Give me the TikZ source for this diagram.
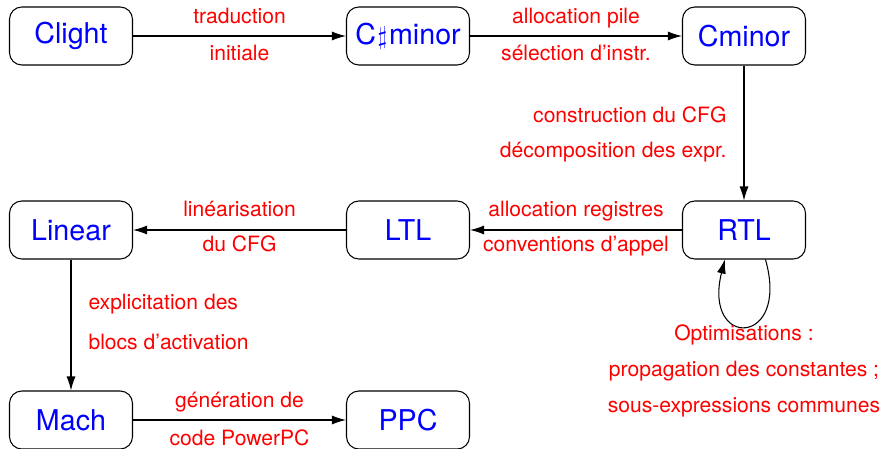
\documentclass[tikz,border=0pt]{standalone}
\usepackage{fontspec}
\setmainfont{TeX Gyre Heros}
\usetikzlibrary{arrows.meta}

\begin{document}
\begin{tikzpicture}[
  pass/.style={draw, rounded corners=7pt, line width=0.6pt, minimum width=2.46cm, minimum height=1.16cm, text=blue, font=\fontsize{16.3}{19}\selectfont},
  lbl/.style={text=red, inner sep=0pt, text height=1.6ex, text depth=0.45ex, font=\fontsize{12}{14}\selectfont},
  arr/.style={-{Latex[length=0.28cm, width=0.18cm]}, line width=0.6pt}]
 \useasboundingbox (0,0) rectangle (17.7,-8.98);
 % langages
 \node[pass] (clight) at (1.42,-0.72) {Clight};
 \node[pass] (csharpminor) at (8.16,-0.72) {C\kern1pt{\fontsize{14.5}{17}\selectfont$\sharp$}\kern1pt minor};
 \node[pass] (cminor) at (14.88,-0.72) {Cminor};
 \node[pass] (rtl) at (14.88,-4.6) {RTL};
 \node[pass] (ltl) at (8.16,-4.6) {LTL};
 \node[pass] (linear) at (1.42,-4.6) {Linear};
 \node[pass] (mach) at (1.42,-8.4) {Mach};
 \node[pass] (ppc) at (8.16,-8.4) {PPC};
 % passes
 \draw[arr] (clight) -- node[lbl, yshift=0.36cm]{traduction} node[lbl, yshift=-0.38cm]{initiale} (csharpminor);
 \draw[arr] (csharpminor) -- node[lbl, yshift=0.36cm]{allocation pile} node[lbl, yshift=-0.38cm]{sélection d’instr.} (cminor);
 \draw[arr] (cminor) -- node[lbl, anchor=east, xshift=-0.34cm, yshift=0.32cm]{construction du CFG} node[lbl, anchor=east, xshift=-0.34cm, yshift=-0.38cm]{décomposition des expr.} (rtl);
 \draw[arr] (rtl) -- node[lbl, yshift=0.38cm]{allocation registres} node[lbl, yshift=-0.32cm]{conventions d’appel} (ltl);
 \draw[arr] (ltl) -- node[lbl, yshift=0.38cm]{linéarisation} node[lbl, yshift=-0.32cm]{du CFG} (linear);
 \draw[arr] (linear) -- node[lbl, anchor=west, xshift=0.34cm, yshift=0.42cm]{explicitation des} node[lbl, anchor=west, xshift=0.34cm, yshift=-0.38cm]{blocs d’activation} (mach);
 \draw[arr] (mach) -- node[lbl, yshift=0.36cm]{génération de} node[lbl, yshift=-0.4cm]{code PowerPC} (ppc);
 % optimisations sur RTL
 \draw[arr] (rtl.-54) .. controls +(0.5,-1.75) and +(-0.45,-1.8) .. (rtl.-123);
 \node[lbl, align=center, text height=, text depth=, font=\fontsize{12}{20.7}\selectfont] (optim) at (14.88,-7.42)
  {Optimisations :\\ propagation des constantes ;\\ sous-expressions communes};
\end{tikzpicture}
\end{document}
